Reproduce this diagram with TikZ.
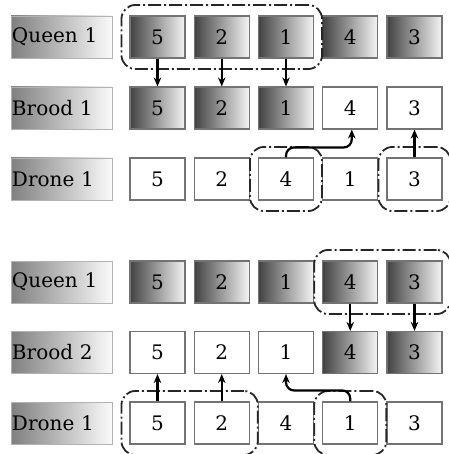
\documentclass[tikz,border=0pt]{standalone}
\usepackage{fontspec}
\setmainfont{DejaVu Serif}
\usetikzlibrary{arrows.meta,fit}
\begin{document}
\begin{tikzpicture}[x=1pt,y=-1pt,
 numbox/.style={draw=black!55, line width=1.1pt, minimum width=55pt, minimum height=42pt, inner sep=0pt, font=\fontsize{20}{24}\selectfont, text=black},
 dk/.style={numbox, left color=black!74, right color=black!4},
 wt/.style={numbox, fill=white},
 lab/.style={draw=black!30, line width=0.8pt, left color=black!50, right color=black!2, minimum height=42pt, text width=99pt, align=left, inner xsep=1pt, inner ysep=0pt, font=\fontsize{20}{24}\selectfont, text=black},
 grp/.style={draw=black!85, line width=1.8pt, rounded corners=14pt, dash pattern=on 13pt off 3pt on 2pt off 3pt, inner xsep=8pt, inner ysep=10.5pt},
 arr/.style={-{Stealth[length=9pt,width=7.5pt]}, line width=2.2pt, black},
]
\useasboundingbox (0,0) rectangle (448,454);
% row A: Queen 1
\node[lab] (la) at (61.5,37) {Queen 1};
\node[dk] (qa1) at (157.5,37) {5};
\node[dk] (qa2) at (221.75,37) {2};
\node[dk] (qa3) at (286,37) {1};
\node[dk] (qa4) at (350.25,37) {4};
\node[dk] (qa5) at (414.5,37) {3};
% row B: Brood 1
\node[lab] (lb) at (61.5,108) {Brood 1};
\node[dk] (ba1) at (157.5,108) {5};
\node[dk] (ba2) at (221.75,108) {2};
\node[dk] (ba3) at (286,108) {1};
\node[wt] (ba4) at (350.25,108) {4};
\node[wt] (ba5) at (414.5,108) {3};
% row C: Drone 1
\node[lab] (lc) at (61.5,179) {Drone 1};
\node[wt] (da1) at (157.5,179) {5};
\node[wt] (da2) at (221.75,179) {2};
\node[wt] (da3) at (286,179) {4};
\node[wt] (da4) at (350.25,179) {1};
\node[wt] (da5) at (414.5,179) {3};
% row D: Queen 1
\node[lab] (ld) at (61.5,282) {Queen 1};
\node[dk] (qb1) at (157.5,282) {5};
\node[dk] (qb2) at (221.75,282) {2};
\node[dk] (qb3) at (286,282) {1};
\node[dk] (qb4) at (350.25,282) {4};
\node[dk] (qb5) at (414.5,282) {3};
% row E: Brood 2
\node[lab] (le) at (61.5,352.5) {Brood 2};
\node[wt] (bb1) at (157.5,352.5) {5};
\node[wt] (bb2) at (221.75,352.5) {2};
\node[wt] (bb3) at (286,352.5) {1};
\node[dk] (bb4) at (350.25,352.5) {4};
\node[dk] (bb5) at (414.5,352.5) {3};
% row F: Drone 1
\node[lab] (lf) at (61.5,423) {Drone 1};
\node[wt] (db1) at (157.5,423) {5};
\node[wt] (db2) at (221.75,423) {2};
\node[wt] (db3) at (286,423) {4};
\node[wt] (db4) at (350.25,423) {1};
\node[wt] (db5) at (414.5,423) {3};
% groups
\node[grp, fit=(qa1)(qa3)] (g1) {};
\node[grp, fit=(da3)] (g2) {};
\node[grp, fit=(da5)] (g3) {};
\node[grp, fit=(qb4)(qb5)] (g4) {};
\node[grp, fit=(db1)(db2)] (g5) {};
\node[grp, fit=(db4)] (g6) {};
% arrows top
\draw[arr] (qa1.south) -- (ba1.north);
\draw[arr] (qa2.south) -- (ba2.north);
\draw[arr] (qa3.south) -- (ba3.north);
\draw[arr, rounded corners=8pt] (da3.north) -- ++(0,-10) -| ([xshift=1.5pt]ba4.south);
\draw[arr] (da5.north) -- (ba5.south);
% arrows bottom
\draw[arr] (qb4.south) -- (bb4.north);
\draw[arr] (qb5.south) -- (bb5.north);
\draw[arr] (db1.north) -- (bb1.south);
\draw[arr] (db2.north) -- (bb2.south);
\draw[arr, rounded corners=8pt] (db4.north) -- ++(0,-11) -| (bb3.south);
\end{tikzpicture}
\end{document}
